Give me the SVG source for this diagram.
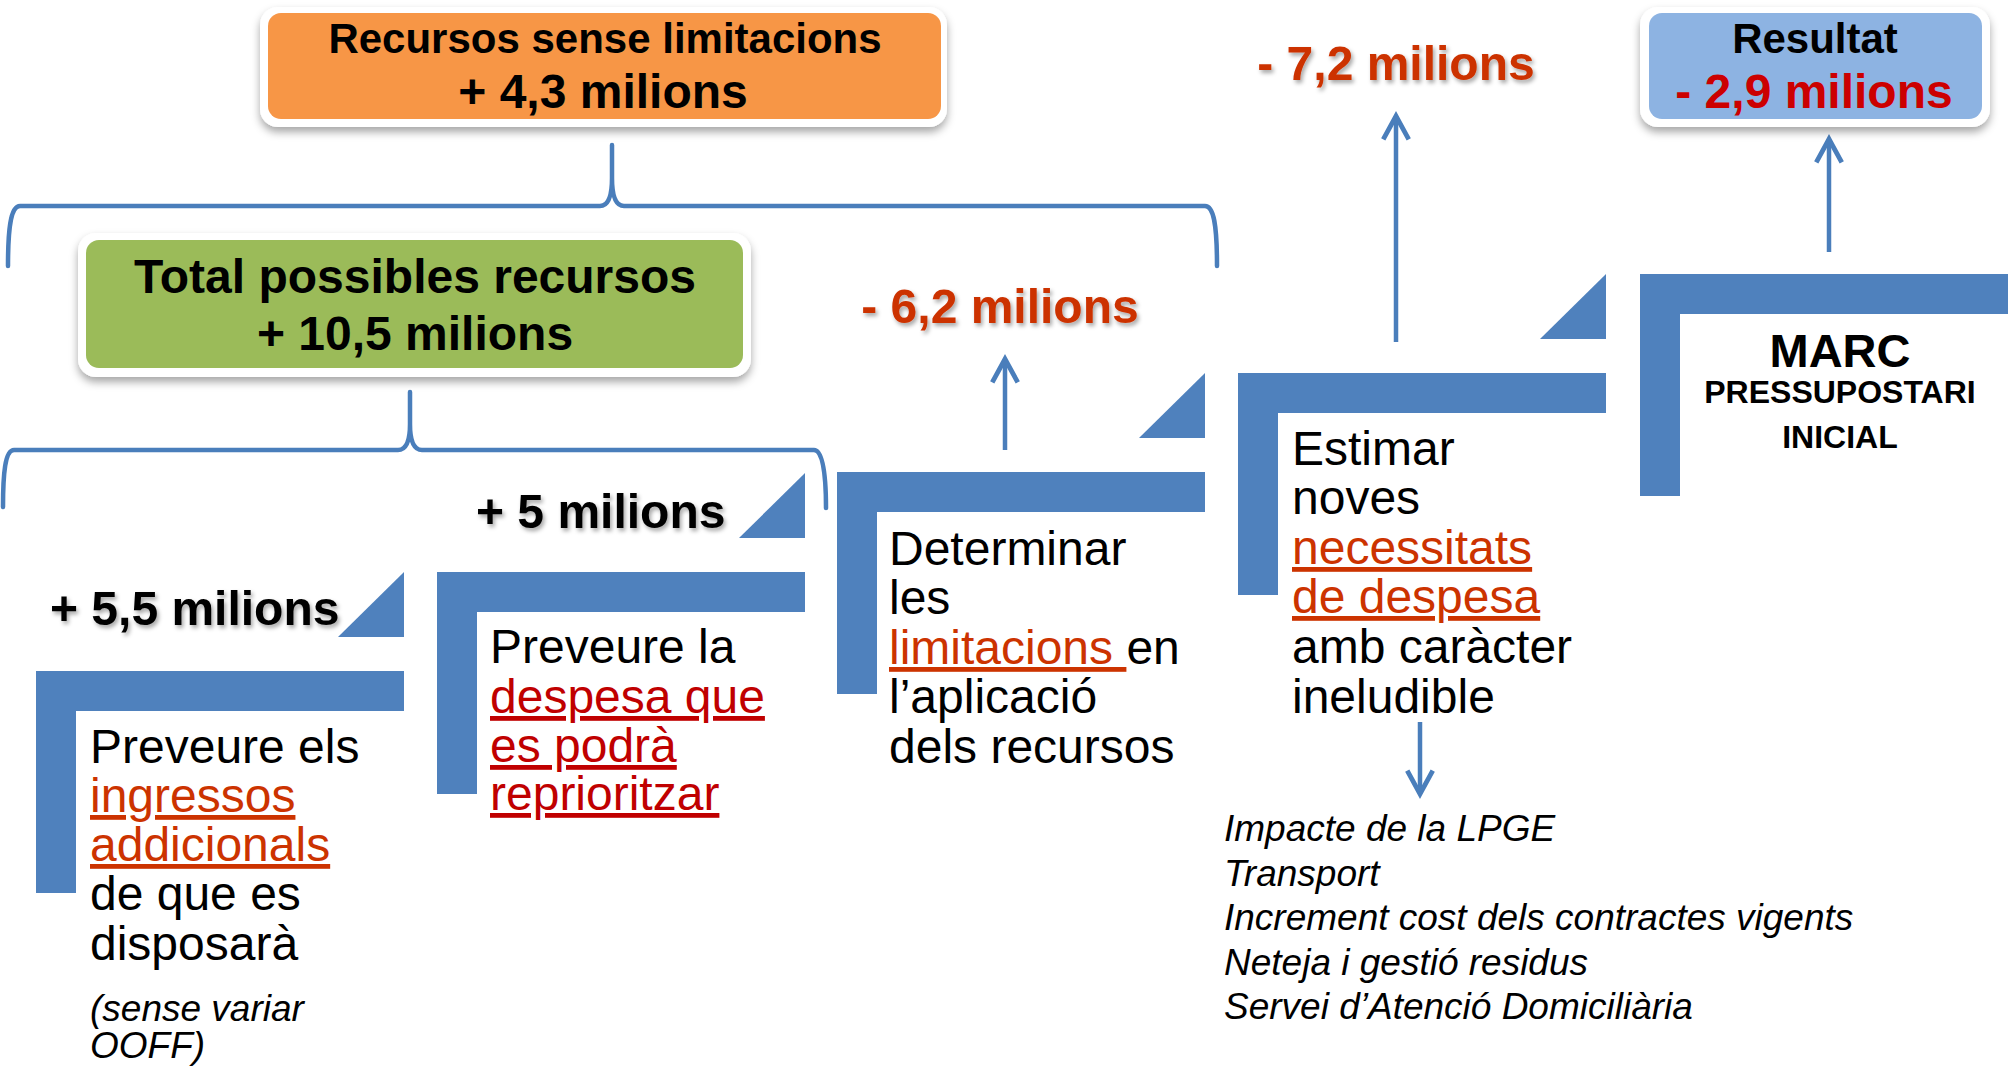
<svg xmlns="http://www.w3.org/2000/svg" width="2008" height="1067" viewBox="0 0 2008 1067">
<style>
text{font-family:"Liberation Sans",Arial,sans-serif;fill:#000}
.b{font-weight:bold}
.t48{font-size:48px}
.t42{font-size:42px}
.body{font-size:48px}
.it{font-size:37px;font-style:italic}
.or{fill:#CC3300}
.rd{fill:#C00000}
.u{text-decoration:underline}
.step{fill:#4F81BD}
.brace{fill:none;stroke:#4A7EBB;stroke-width:4.5;stroke-linecap:round;stroke-linejoin:round}
.arrow{fill:none;stroke:#4A7EBB;stroke-width:4.5}
.frame{fill:#fff}
.sh{filter:url(#tshadow)}
</style>
<defs>
<filter id="bshadow" x="-10%" y="-20%" width="120%" height="150%">
<feDropShadow dx="0" dy="5" stdDeviation="4" flood-color="#000" flood-opacity="0.35"/>
</filter>
<filter id="tshadow" x="-10%" y="-30%" width="120%" height="160%">
<feDropShadow dx="2" dy="3" stdDeviation="2" flood-color="#000" flood-opacity="0.35"/>
</filter>
<marker id="ah" markerUnits="userSpaceOnUse" markerWidth="34" markerHeight="34" viewBox="-28 -16 32 32" refX="0" refY="0" orient="auto" overflow="visible">
<path d="M-22,-12 L0,0 L-22,12" fill="none" stroke="#4A7EBB" stroke-width="4.5" stroke-linejoin="miter"/>
</marker>
<path id="stepL" d="M0,0 H368 V40 H40 V222 H0 Z"/>
<path id="tri" d="M302,-34 H368 V-99 Z"/>
</defs>

<g id="connectors">
<path class="brace" d="M8,266 C8,232 10,206 20,206 L600,206 C608,206 612,196 612,178 L612,145 L612,178 C612,196 616,206 624,206 L1205,206 C1214,206 1217,226 1217,266"/>
<path class="brace" d="M3,507 C3,474 5,450 14,450 L398,450 C406,450 410,440 410,424 L410,392 L410,424 C410,440 414,450 422,450 L814,450 C822,450 826,470 826,508"/>
<line class="arrow" x1="1005" y1="450" x2="1005" y2="359" marker-end="url(#ah)"/>
<line class="arrow" x1="1396" y1="342" x2="1396" y2="116" marker-end="url(#ah)"/>
<line class="arrow" x1="1829" y1="252" x2="1829" y2="139" marker-end="url(#ah)"/>
<line class="arrow" x1="1420" y1="722" x2="1420" y2="794" marker-end="url(#ah)"/>
</g>

<g id="recursos-sense-limitacions">
<rect class="frame" x="260" y="7" width="687" height="120" rx="18" filter="url(#bshadow)"/>
<rect x="268" y="13" width="673" height="106" rx="13" fill="#F79646"/>
<text class="b t42" x="605" y="53" text-anchor="middle">Recursos sense limitacions</text>
<text class="b t48" x="603" y="108" text-anchor="middle">+ 4,3 milions</text>
</g>

<g id="total-possibles-recursos">
<rect class="frame" x="78" y="233" width="673" height="144" rx="18" filter="url(#bshadow)"/>
<rect x="86" y="240" width="657" height="128" rx="13" fill="#9BBB59"/>
<text class="b t48" x="415" y="293" text-anchor="middle">Total possibles recursos</text>
<text class="b t48" x="415" y="350" text-anchor="middle">+ 10,5 milions</text>
</g>

<g id="resultat">
<rect class="frame" x="1640" y="7" width="350" height="120" rx="18" filter="url(#bshadow)"/>
<rect x="1649" y="13" width="333" height="106" rx="13" fill="#8DB3E2"/>
<text class="b t42" x="1815" y="53" text-anchor="middle">Resultat</text>
<text class="b t48 rd" x="1814" y="108" text-anchor="middle" style="fill:#CC0000">- 2,9 milions</text>
</g>

<g id="label-minus-7-2">
<text class="b t48 or sh" x="1396" y="80" text-anchor="middle">- 7,2 milions</text>
</g>
<g id="label-minus-6-2">
<text class="b t48 or sh" x="1000" y="323" text-anchor="middle">- 6,2 milions</text>
</g>
<g id="label-plus-5">
<text class="b t48 sh" x="476" y="528">+ 5 milions</text>
</g>
<g id="label-plus-5-5">
<text class="b t48 sh" x="50" y="625">+ 5,5 milions</text>
</g>

<g id="step-ingressos">
<use href="#stepL" class="step" x="36" y="671"/>
<use href="#tri" class="step" x="36" y="671"/>
<text class="body" x="90" y="763">Preveure els</text>
<text class="body" x="90" y="812"><tspan class="or u">ingressos</tspan></text>
<text class="body" x="90" y="861"><tspan class="or u">addicionals</tspan></text>
<text class="body" x="90" y="910">de que es</text>
<text class="body" x="90" y="960">disposarà</text>
<text class="it" x="90" y="1021">(sense variar</text>
<text class="it" x="90" y="1058">OOFF)</text>
</g>

<g id="step-despesa">
<use href="#stepL" class="step" x="437" y="572"/>
<use href="#tri" class="step" x="437" y="572"/>
<text class="body" x="490" y="663">Preveure la</text>
<text class="body" x="490" y="713"><tspan class="rd u">despesa que</tspan></text>
<text class="body" x="490" y="762"><tspan class="rd u">es podrà</tspan></text>
<text class="body" x="490" y="810"><tspan class="rd u">reprioritzar</tspan></text>
</g>

<g id="step-limitacions">
<use href="#stepL" class="step" x="837" y="472"/>
<use href="#tri" class="step" x="837" y="472"/>
<text class="body" x="889" y="565">Determinar</text>
<text class="body" x="889" y="614">les</text>
<text class="body" x="889" y="664"><tspan class="or u">limitacions </tspan>en</text>
<text class="body" x="889" y="713">l’aplicació</text>
<text class="body" x="889" y="763">dels recursos</text>
</g>

<g id="step-necessitats">
<use href="#stepL" class="step" x="1238" y="373"/>
<use href="#tri" class="step" x="1238" y="373"/>
<text class="body" x="1292" y="465">Estimar</text>
<text class="body" x="1292" y="514">noves</text>
<text class="body" x="1292" y="564"><tspan class="or u">necessitats</tspan></text>
<text class="body" x="1292" y="613"><tspan class="or u">de despesa</tspan></text>
<text class="body" x="1292" y="663">amb caràcter</text>
<text class="body" x="1292" y="713">ineludible</text>
</g>

<g id="list-necessitats">
<text class="it" x="1224" y="841">Impacte de la LPGE</text>
<text class="it" x="1224" y="886">Transport</text>
<text class="it" x="1224" y="930">Increment cost dels contractes vigents</text>
<text class="it" x="1224" y="975">Neteja i gestió residus</text>
<text class="it" x="1224" y="1019">Servei d’Atenció Domiciliària</text>
</g>

<g id="step-marc">
<use href="#stepL" class="step" x="1640" y="274"/>
<text class="b" x="1840" y="367" text-anchor="middle" font-size="47">MARC</text>
<text class="b" x="1840" y="403" text-anchor="middle" font-size="32">PRESSUPOSTARI</text>
<text class="b" x="1840" y="448" text-anchor="middle" font-size="32">INICIAL</text>
</g>
</svg>
